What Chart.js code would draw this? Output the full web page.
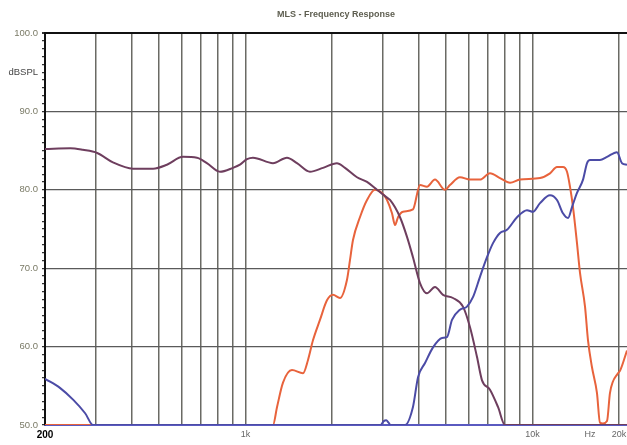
<!DOCTYPE html>
<html>
<head>
<meta charset="utf-8">
<script src="https://cdn.jsdelivr.net/npm/chart.js@4/dist/chart.umd.min.js"></script>
<style>
  html, body { margin: 0; padding: 0; background: #fff; overflow: hidden; }
  #wrap { width: 627px; height: 445px; position: relative; }
</style>
</head>
<body>
<div id="wrap"><canvas id="mlsChart"></canvas></div>
<script>
// values (Hz / dB SPL)
const wooferFreq = [200, 245, 271, 304, 345, 405, 476, 532, 605, 677, 733, 814, 904, 956, 1011, 1061, 1246, 1394, 1510, 1676, 1861, 2081, 2220, 2445, 2649, 2870, 3110, 3186, 3452, 3651, 3830, 4052, 4285, 4570, 4874, 5280, 5721, 6050, 6400, 6665, 7105, 7577, 8013, 21330];
const wooferDb   = [85.2, 85.3, 85.1, 84.7, 83.5, 82.7, 82.7, 83.2, 84.2, 84.1, 83.4, 82.3, 82.8, 83.2, 83.9, 84.1, 83.4, 84.1, 83.4, 82.3, 82.8, 83.4, 82.8, 81.6, 81.0, 80.0, 79.0, 78.7, 76.5, 74.0, 71.4, 68.1, 66.8, 67.6, 66.6, 66.2, 65.1, 62.5, 58.7, 55.7, 54.5, 52.3, 50, 50];

const midFreq = [200, 1246, 1287, 1350, 1451, 1585, 1650, 1717, 1816, 1921, 2016, 2132, 2255, 2310, 2367, 2503, 2649, 2824, 2987, 3110, 3237, 3316, 3397, 3536, 3830, 4052, 4285, 4570, 4952, 5153, 5584, 6050, 6557, 7105, 7700, 8344, 9037, 10617, 11500, 12163, 12760, 13180, 13500, 13830, 14280, 14630, 15230, 15600, 16100, 16760, 17170, 17590, 18170, 18610, 19840, 20160, 21330];
const midDb   = [50, 50, 52.3, 55.4, 57.0, 56.6, 58.3, 60.8, 63.4, 65.9, 66.6, 66.2, 68.5, 71.0, 73.6, 76.5, 78.7, 80.0, 79.6, 78.7, 77.0, 75.5, 76.5, 77.2, 77.5, 80.6, 80.4, 81.3, 80.0, 80.6, 81.6, 81.3, 81.3, 82.1, 81.5, 80.9, 81.3, 81.5, 82.1, 82.9, 82.9, 82.3, 80.4, 77.8, 73.2, 69.4, 65.1, 60.8, 57.4, 54.1, 50.3, 50.2, 50.5, 54.1, 56.6, 56.9, 59.5];

const tweeterFreq = [200, 226, 251, 276, 294, 2950, 3030, 3090, 3150, 3200, 3594, 3830, 3989, 4219, 4498, 4835, 5030, 5238, 5584, 5907, 6197, 6557, 6937, 7280, 7700, 8145, 8826, 9560, 10030, 10617, 11500, 12163, 12760, 13290, 13720, 14280, 14990, 15480, 15860, 17170, 18170, 19680, 20490, 21330];
const tweeterDb   = [55.9, 54.7, 53.2, 51.5, 50, 50, 50.5, 50.6, 50.3, 50, 50, 52.3, 56.1, 57.9, 59.9, 61.1, 61.2, 63.4, 64.7, 65.1, 66.3, 68.9, 71.4, 73.2, 74.5, 74.9, 76.5, 77.4, 77.2, 78.3, 79.3, 78.7, 77.0, 76.4, 77.8, 79.6, 81.3, 83.4, 83.8, 83.8, 84.2, 84.8, 83.4, 83.2];

const gridFreqs = [200, 300, 400, 500, 600, 700, 800, 900, 1000, 2000, 3000, 4000, 5000, 6000, 7000, 8000, 9000, 10000, 15860, 20000];
const xLabels = { 200: '200', 1000: '1k', 10000: '10k', 15860: 'Hz', 20000: '20k' };
const HZ_TICK = 15860;

function pts(xs, ys) {
    return xs.map(function (x, i) { return { x: x, y: ys[i] }; });
}

const titlePlugin = {
    id: 'mlsTitle',
    afterDraw(chart) {
        const ctx = chart.ctx;
        const a = chart.chartArea;
        ctx.save();
        ctx.font = 'bold 9px "Liberation Sans", Arial, sans-serif';
        ctx.fillStyle = '#5e5e50';
        ctx.textAlign = 'center';
        ctx.textBaseline = 'middle';
        ctx.fillText('MLS - Frequency Response', (a.left + a.right) / 2, 15);
        ctx.restore();
    }
};

const ctx = document.getElementById('mlsChart');

new Chart(ctx, {
    type: 'line',
    data: {
        datasets: [
            {
                label: 'tweeter',
                data: pts(tweeterFreq, tweeterDb),
                borderColor: '#4b4ba6',
                borderWidth: 2,
                pointRadius: 0,
                cubicInterpolationMode: 'monotone'
            },
            {
                label: 'woofer',
                data: pts(wooferFreq, wooferDb),
                borderColor: '#6e3e5e',
                borderWidth: 2,
                pointRadius: 0,
                cubicInterpolationMode: 'monotone'
            },
            {
                label: 'mid',
                data: pts(midFreq, midDb),
                borderColor: '#e8633c',
                borderWidth: 2,
                pointRadius: 0,
                cubicInterpolationMode: 'monotone'
            }
        ]
    },
    options: {
        responsive: true,
        maintainAspectRatio: false,
        animation: false,
        layout: { padding: { top: 33, left: 0, right: 0, bottom: 0 } },
        plugins: {
            legend: { display: false },
            title: { display: false },
            tooltip: { enabled: false }
        },
        scales: {
            x: {
                type: 'logarithmic',
                min: 200,
                max: 21330,
                afterBuildTicks: function (scale) {
                    scale.ticks = gridFreqs.map(function (v) { return { value: v }; });
                },
                afterFit: function (scale) {
                    scale.height = 20;
                    scale.paddingLeft = 0;
                    scale.paddingRight = 0;
                },
                border: { color: '#5a5ac0', width: 2 },
                grid: {
                    drawTicks: false,
                    color: function (c) {
                        const v = c.tick ? c.tick.value : 0;
                        if (v === 200 || v === HZ_TICK) return 'rgba(0,0,0,0)';
                        return '#6a6a64';
                    },
                    lineWidth: 1.5
                },
                ticks: {
                    autoSkip: false,
                    maxRotation: 0,
                    padding: 4,
                    callback: function (v) { return xLabels[v] || ''; },
                    color: function (c) { return c.tick && c.tick.value === 200 ? '#000' : '#666'; },
                    font: function (c) {
                        if (c.tick && c.tick.value === 200) return { family: '"Liberation Sans", Arial', size: 10, weight: 'bold' };
                        return { family: '"Liberation Sans", Arial', size: 9 };
                    }
                }
            },
            y: {
                min: 50,
                max: 100,
                afterFit: function (scale) {
                    scale.width = 45;
                    scale.paddingTop = 0;
                    scale.paddingBottom = 0;
                },
                border: { color: '#111', width: 2 },
                grid: {
                    tickLength: 3,
                    tickColor: '#333',
                    color: function (c) {
                        const v = c.tick ? c.tick.value : 0;
                        if (v === 100) return '#111';
                        if (v === 50) return 'rgba(0,0,0,0)';
                        if (v % 10 === 0) return '#5a5a5a';
                        return 'rgba(0,0,0,0)';
                    },
                    lineWidth: function (c) {
                        return c.tick && c.tick.value === 100 ? 2 : 1.2;
                    }
                },
                ticks: {
                    stepSize: 1,
                    autoSkip: false,
                    padding: 4,
                    callback: function (v) {
                        if (v % 10 === 0) return v.toFixed(1);
                        if (v === 95) return 'dBSPL';
                        return '';
                    },
                    color: function (c) { return c.tick && c.tick.value === 95 ? '#444' : '#7a7a66'; },
                    font: { family: '"Liberation Sans", Arial', size: 9.5 }
                }
            }
        }
    },
    plugins: [titlePlugin]
});
</script>
</body>
</html>
